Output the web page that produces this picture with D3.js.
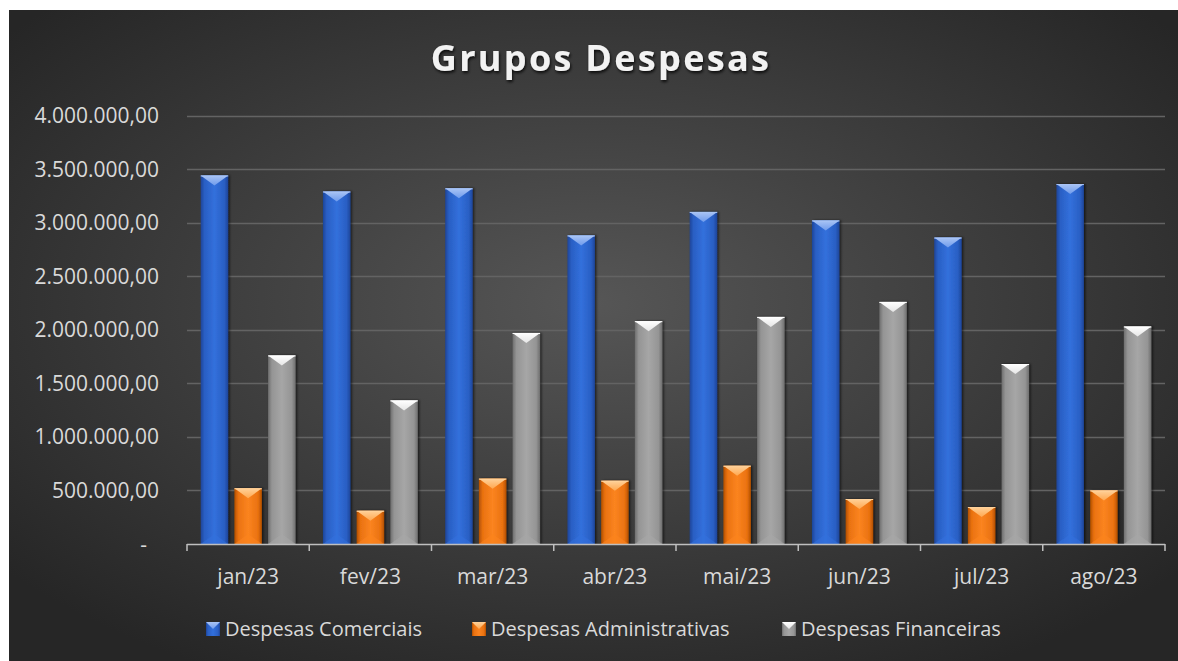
<!DOCTYPE html>
<html>
<head>
<meta charset="utf-8">
<script src="https://cdn.jsdelivr.net/npm/d3@7"></script>
<style>
  body { margin: 0; background: #fff; }
  svg { display: block; font-family: "Open Sans", "Noto Sans", sans-serif; }
</style>
</head>
<body>
<div id="chart"></div>
<script>
// data
var months = ["jan/23", "fev/23", "mar/23", "abr/23", "mai/23", "jun/23", "jul/23", "ago/23"];
var seriesNames = ["Despesas Comerciais", "Despesas Administrativas", "Despesas Financeiras"];
var comerciais = [3440000, 3290000, 3320000, 2880000, 3100000, 3020000, 2860000, 3360000];
var administrativas = [520000, 310000, 610000, 590000, 730000, 420000, 345000, 500000];
var financeiras = [1760000, 1340000, 1970000, 2080000, 2120000, 2260000, 1680000, 2030000];
var yTicks = [0, 500000, 1000000, 1500000, 2000000, 2500000, 3000000, 3500000, 4000000];

var values = [comerciais, administrativas, financeiras];
var colors = [
  { edge: "#1d4599", mid: "#2a5fc4", center: "#3270dc", top: "#6f9bec", topHi: "#a9c4f5" },
  { edge: "#b24f00", mid: "#ea7210", center: "#fb8420", top: "#ffa850", topHi: "#ffd199" },
  { edge: "#6e6e6e", mid: "#959595", center: "#a6a6a6", top: "#e6e6e6", topHi: "#ffffff" }
];

var W = 1178, H = 661;
var svg = d3.select("#chart").append("svg").attr("width", W).attr("height", H);
var defs = svg.append("defs");

//background of the chart area
var bg = defs.append("radialGradient").attr("id", "bg")
  .attr("cx", "50%").attr("cy", "45%").attr("r", "65%");
bg.append("stop").attr("offset", "0%").attr("stop-color", "#565656");
bg.append("stop").attr("offset", "100%").attr("stop-color", "#262626");

svg.append("rect").attr("x", 9).attr("y", 10).attr("width", W - 9).attr("height", H - 10)
  .attr("fill", "url(#bg)");

//gradients for bars
colors.forEach(function (c, i) {
  var g = defs.append("linearGradient").attr("id", "body" + i)
    .attr("x1", "0%").attr("x2", "100%").attr("y1", "0%").attr("y2", "0%");
  g.append("stop").attr("offset", "0%").attr("stop-color", c.edge);
  g.append("stop").attr("offset", "14%").attr("stop-color", c.mid);
  g.append("stop").attr("offset", "50%").attr("stop-color", c.center);
  g.append("stop").attr("offset", "86%").attr("stop-color", c.mid);
  g.append("stop").attr("offset", "100%").attr("stop-color", c.edge);
  var t = defs.append("linearGradient").attr("id", "top" + i)
    .attr("x1", "0%").attr("x2", "0%").attr("y1", "0%").attr("y2", "100%");
  t.append("stop").attr("offset", "0%").attr("stop-color", c.topHi);
  t.append("stop").attr("offset", "100%").attr("stop-color", c.top);
});

var shadow = defs.append("filter").attr("id", "shadow")
  .attr("x", "-30%").attr("y", "-10%").attr("width", "160%").attr("height", "120%");
shadow.append("feDropShadow").attr("dx", 1.5).attr("dy", 0).attr("stdDeviation", 1.2)
  .attr("flood-color", "#000").attr("flood-opacity", 0.6);

//scales
var plotLeft = 187, plotRight = 1165, plotTop = 115.5, plotBottom = 544;
var x0 = d3.scaleBand().domain(months).range([plotLeft, plotRight]).padding(0);
var gw = x0.bandwidth();
var x1 = d3.scaleBand().domain(d3.range(3)).range([gw * 0.112, gw * 0.888]).paddingInner(0.185);
var y = d3.scaleLinear().domain([0, 4000000]).range([plotBottom, plotTop]);

var fmt = function (v) {
  if (v === 0) return "-";
  return d3.format(",.2f")(v).replace(/,/g, "#").replace(/\./g, ",").replace(/#/g, ".");
};

//gridlines
svg.append("g").selectAll("line").data(yTicks.slice(1)).enter().append("line")
  .attr("x1", plotLeft).attr("x2", plotRight)
  .attr("y1", function (d) { return Math.round(y(d)) + 0.5; })
  .attr("y2", function (d) { return Math.round(y(d)) + 0.5; })
  .attr("stroke", "#636363").attr("stroke-width", 1.3);

//y labels
svg.append("g").selectAll("text").data(yTicks).enter().append("text")
  .attr("x", function (d) { return d === 0 ? 147 : 159; })
  .attr("y", function (d) { return y(d) + 7.5; })
  .attr("text-anchor", "end")
  .attr("fill", "#d9d9d9")
  .style("font-size", "21px")
  .text(fmt);

//bars
var groups = svg.append("g").selectAll("g").data(months).enter().append("g")
  .attr("transform", function (d) { return "translate(" + x0(d) + ",0)"; });

groups.each(function (m, mi) {
  var gsel = d3.select(this);
  for (var s = 0; s < 3; s++) {
    var bx = x1(s), bw = x1.bandwidth();
    var by = y(values[s][mi]), bh = plotBottom - by;
    var bev = Math.min(10, bh / 2);
    var b = gsel.append("g").attr("filter", "url(#shadow)");
    b.append("rect").attr("x", bx).attr("y", by).attr("width", bw).attr("height", bh)
      .attr("fill", "url(#body" + s + ")");
    //top bevel
    b.append("path")
      .attr("d", "M" + bx + "," + by + "L" + (bx + bw) + "," + by + "L" + (bx + bw / 2) + "," + (by + bev) + "Z")
      .attr("fill", "url(#top" + s + ")");
    b.append("line").attr("x1", bx).attr("x2", bx + bw).attr("y1", by + 0.5).attr("y2", by + 0.5)
      .attr("stroke", colors[s].topHi).attr("stroke-width", 1);
    //bottom bevel
    b.append("path")
      .attr("d", "M" + bx + "," + plotBottom + "L" + (bx + bw) + "," + plotBottom + "L" + (bx + bw / 2) + "," + (plotBottom - bev) + "Z")
      .attr("fill", colors[s].center).attr("opacity", 0.6);
  }
});

//x axis
var xa = svg.append("g");
xa.append("line").attr("x1", plotLeft).attr("x2", plotRight).attr("y1", plotBottom + 0.5).attr("y2", plotBottom + 0.5)
  .attr("stroke", "#bfbfbf").attr("stroke-width", 1.5);
var bounds = months.map(function (m) { return x0(m); }).concat([plotRight]);
xa.selectAll("line.tick").data(bounds).enter().append("line").attr("class", "tick")
  .attr("x1", function (d) { return d; }).attr("x2", function (d) { return d; })
  .attr("y1", plotBottom).attr("y2", plotBottom + 7)
  .attr("stroke", "#bfbfbf").attr("stroke-width", 1.5);
xa.selectAll("text").data(months).enter().append("text")
  .attr("x", function (d) { return x0(d) + gw / 2; })
  .attr("y", 584)
  .attr("text-anchor", "middle")
  .attr("fill", "#d9d9d9")
  .style("font-size", "21px")
  .text(function (d) { return d; });

//title
var tf = defs.append("filter").attr("id", "tshadow");
tf.append("feDropShadow").attr("dx", 1).attr("dy", 2).attr("stdDeviation", 1.5)
  .attr("flood-color", "#000").attr("flood-opacity", 0.8);
svg.append("text").attr("x", 601).attr("y", 71)
  .attr("text-anchor", "middle")
  .attr("fill", "#f2f2f2")
  .attr("filter", "url(#tshadow)")
  .style("font-size", "36px").style("font-weight", "bold").style("letter-spacing", "2.3px")
  .text("Grupos Despesas");

//legend
var legX = [206, 472, 782];
var leg = svg.append("g").selectAll("g").data(seriesNames).enter().append("g")
  .attr("transform", function (d, i) { return "translate(" + legX[i] + ",622)"; });
leg.append("rect").attr("width", 14).attr("height", 14)
  .attr("fill", function (d, i) { return "url(#body" + i + ")"; });
leg.append("path").attr("d", "M0,0L14,0L7,7Z")
  .attr("fill", function (d, i) { return "url(#top" + i + ")"; });
leg.append("text").attr("x", 19).attr("y", 14)
  .attr("fill", "#d9d9d9")
  .style("font-size", "20px")
  .text(function (d) { return d; });
</script>
</body>
</html>
